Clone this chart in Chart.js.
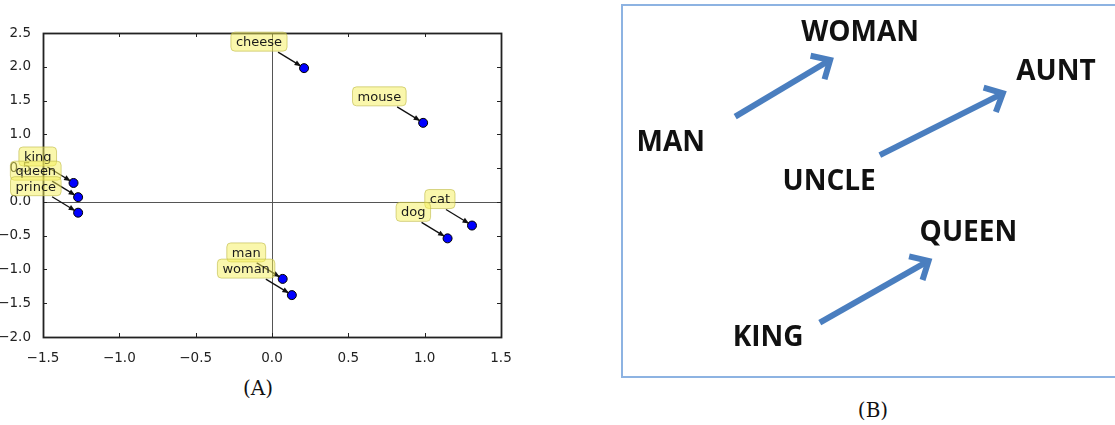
<!DOCTYPE html>
<html>
<head>
<meta charset="utf-8">
<script src="https://cdn.jsdelivr.net/npm/chart.js@4/dist/chart.umd.min.js"></script>
<style>
  body { margin: 0; width: 1115px; height: 425px; overflow: hidden; background: #fff; position: relative; }
  #wrapA { position: absolute; left: 0; top: 0; width: 560px; height: 370px; }
  #boxB { position: absolute; left: 621px; top: 4px; width: 520px; height: 370px; border: 2px solid #8db3e2; background: #fff; }
  #wrapB { position: absolute; left: 0; top: 0; width: 492px; height: 370px; }
  .cap { position: absolute; font-family: "DejaVu Serif", "Liberation Serif", serif; font-size: 20px; color: #111; transform: translateX(-50%); }
</style>
</head>
<body>
<div id="wrapA"><canvas id="chartA"></canvas></div>
<div id="boxB"><div id="wrapB"><canvas id="chartB"></canvas></div></div>
<div class="cap" style="left:258px; top:376px;">(A)</div>
<div class="cap" style="left:873px; top:398px;">(B)</div>
<script>
// panel A: word vectors projected to 2D
var wordsA = ['cheese', 'mouse', 'king', 'queen', 'prince', 'cat', 'dog', 'man', 'woman'];
var xA = [0.21, 0.99, -1.30, -1.27, -1.27, 1.31, 1.15, 0.07, 0.13];
var yA = [1.98, 1.17, 0.28, 0.07, -0.16, -0.35, -0.54, -1.14, -1.38];
var xMinA = -1.5, xMaxA = 1.5, yMinA = -2.0, yMaxA = 2.5, stepA = 0.5;

// panel B: analogy diagram (unit box 0..100)
var wordsB = ['WOMAN', 'AUNT', 'MAN', 'UNCLE', 'QUEEN', 'KING'];
var xB = [48.2, 88.0, 9.7, 41.9, 70.2, 29.5];
var yB = [92.7, 82.2, 63.0, 52.5, 38.6, 10.3];
var arrowFromX = [22.8, 52.2, 40.0];
var arrowFromY = [70.1, 59.7, 14.4];
var arrowToX = [42.1, 77.2, 62.1];
var arrowToY = [85.4, 76.4, 31.1];

function fmt(v){
	var s = (Math.round(v*10)/10).toFixed(1);
	return s.replace('-', '\u2212');
}

var pointsA = [];
for (let i=0;i<wordsA.length;i++){
	pointsA.push({x: xA[i], y: yA[i]});
}

function roundRect(ctx, x, y, w, h, r){
	ctx.beginPath();
	ctx.moveTo(x+r, y);
	ctx.lineTo(x+w-r, y);
	ctx.quadraticCurveTo(x+w, y, x+w, y+r);
	ctx.lineTo(x+w, y+h-r);
	ctx.quadraticCurveTo(x+w, y+h, x+w-r, y+h);
	ctx.lineTo(x+r, y+h);
	ctx.quadraticCurveTo(x, y+h, x, y+h-r);
	ctx.lineTo(x, y+r);
	ctx.quadraticCurveTo(x, y, x+r, y);
	ctx.closePath();
}

// frame, inward ticks and zero lines
var frameA = {
	id: 'frameA',
	beforeDatasetsDraw: function(chart){
		var ctx = chart.ctx, a = chart.chartArea;
		var sx = chart.scales.x, sy = chart.scales.y;
		ctx.save();
		ctx.strokeStyle = '#555';
		ctx.lineWidth = 1;
		var x0 = Math.round(sx.getPixelForValue(0)) + 0.5;
		var y0 = Math.round(sy.getPixelForValue(0)) + 0.5;
		ctx.beginPath();
		ctx.moveTo(x0, a.top); ctx.lineTo(x0, a.bottom);
		ctx.moveTo(a.left, y0); ctx.lineTo(a.right, y0);
		ctx.stroke();
		ctx.strokeStyle = '#222';
		ctx.beginPath();
		sx.ticks.forEach(function(t){
			var px = Math.round(sx.getPixelForValue(t.value)) + 0.5;
			ctx.moveTo(px, a.bottom); ctx.lineTo(px, a.bottom-4);
			ctx.moveTo(px, a.top); ctx.lineTo(px, a.top+4);
		});
		sy.ticks.forEach(function(t){
			var py = Math.round(sy.getPixelForValue(t.value)) + 0.5;
			ctx.moveTo(a.left, py); ctx.lineTo(a.left+4, py);
			ctx.moveTo(a.right, py); ctx.lineTo(a.right-4, py);
		});
		ctx.stroke();
		ctx.lineWidth = 1.8;
		ctx.strokeRect(Math.round(a.left)+0.5, Math.round(a.top)+0.5, Math.round(a.right-a.left), Math.round(a.bottom-a.top));
		ctx.restore();
	}
};

// yellow annotation boxes with arrows
var labelsA = {
	id: 'labelsA',
	afterDatasetsDraw: function(chart){
		var ctx = chart.ctx;
		var meta = chart.getDatasetMeta(0);
		ctx.save();
		ctx.font = '13px "DejaVu Sans"';
		ctx.textAlign = 'right';
		ctx.textBaseline = 'bottom';
		meta.data.forEach(function(el, i){
			var px = el.x, py = el.y;
			// arrow
			var sx = px-26, sy = py-16, ex = px-3, ey = py-2;
			ctx.strokeStyle = '#111';
			ctx.fillStyle = '#111';
			ctx.lineWidth = 1.3;
			ctx.beginPath(); ctx.moveTo(sx, sy); ctx.lineTo(ex, ey); ctx.stroke();
			var ang = Math.atan2(ey-sy, ex-sx);
			ctx.beginPath();
			ctx.moveTo(ex, ey);
			ctx.lineTo(ex-7*Math.cos(ang-0.4), ey-7*Math.sin(ang-0.4));
			ctx.lineTo(ex-7*Math.cos(ang+0.4), ey-7*Math.sin(ang+0.4));
			ctx.closePath(); ctx.fill();
			// box
			var w = ctx.measureText(wordsA[i]).width;
			var right = px-17, bottom = py-17;
			roundRect(ctx, right-w-10, bottom-19, w+10, 19, 4);
			ctx.fillStyle = 'rgba(245,240,90,0.5)';
			ctx.fill();
			ctx.strokeStyle = 'rgba(190,185,70,0.6)';
			ctx.lineWidth = 1;
			ctx.stroke();
			ctx.fillStyle = '#1a1a1a';
			ctx.fillText(wordsA[i], right-5, bottom-2);
		});
		ctx.restore();
	}
};

new Chart(document.getElementById('chartA'), {
	type: 'scatter',
	data: {
		datasets: [{
			data: pointsA,
			backgroundColor: '#0000ff',
			borderColor: '#000',
			borderWidth: 1,
			pointRadius: 4.5
		}]
	},
	options: {
		responsive: true,
		maintainAspectRatio: false,
		animation: false,
		layout: { padding: { left: 0, top: 33, right: 59, bottom: 0 } },
		plugins: { legend: { display: false }, tooltip: { enabled: false } },
		scales: {
			x: {
				min: xMinA, max: xMaxA,
				grid: { display: false },
				border: { display: false },
				ticks: { stepSize: stepA, padding: 5, color: '#222', font: { family: 'DejaVu Sans', size: 13.5 }, callback: function(v){ return fmt(v); } },
				afterFit: function(s){ s.height = 33; }
			},
			y: {
				min: yMinA, max: yMaxA,
				grid: { display: false },
				border: { display: false },
				ticks: { stepSize: stepA, padding: 4, color: '#222', font: { family: 'DejaVu Sans', size: 13.5 }, callback: function(v){ return fmt(v); } },
				afterFit: function(s){ s.width = 43; }
			}
		}
	},
	plugins: [frameA, labelsA]
});

// panel B
var wordPts = [];
for (let i=0;i<wordsB.length;i++){
	wordPts.push({x: xB[i], y: yB[i]});
}
var arrowSets = [];
for (let i=0;i<arrowFromX.length;i++){
	arrowSets.push({
		data: [{x: arrowFromX[i], y: arrowFromY[i]}, {x: arrowToX[i], y: arrowToY[i]}],
		showLine: true,
		borderColor: '#4a7ebf',
		borderWidth: 6,
		pointRadius: 0,
		isArrow: true
	});
}

var drawB = {
	id: 'drawB',
	afterDatasetsDraw: function(chart){
		var ctx = chart.ctx;
		ctx.save();
		chart.data.datasets.forEach(function(ds, di){
			var meta = chart.getDatasetMeta(di);
			if (ds.isArrow){
				var p0 = meta.data[0], p1 = meta.data[1];
				var ang = Math.atan2(p1.y-p0.y, p1.x-p0.x);
				var L = 20;
				ctx.strokeStyle = '#4a7ebf';
				ctx.lineWidth = 6;
				ctx.lineJoin = 'miter';
				ctx.lineCap = 'butt';
				ctx.beginPath();
				ctx.moveTo(p1.x-L*Math.cos(ang-0.75), p1.y-L*Math.sin(ang-0.75));
				ctx.lineTo(p1.x, p1.y);
				ctx.lineTo(p1.x-L*Math.cos(ang+0.75), p1.y-L*Math.sin(ang+0.75));
				ctx.stroke();
			} else {
				ctx.fillStyle = '#111';
				ctx.font = 'bold 28px "Open Sans"';
				ctx.textAlign = 'center';
				ctx.textBaseline = 'middle';
				meta.data.forEach(function(el, i){
					ctx.fillText(wordsB[i], el.x, el.y);
				});
			}
		});
		ctx.restore();
	}
};

new Chart(document.getElementById('chartB'), {
	type: 'scatter',
	data: {
		datasets: [{ data: wordPts, pointRadius: 0 }].concat(arrowSets)
	},
	options: {
		responsive: true,
		maintainAspectRatio: false,
		animation: false,
		layout: { padding: 0 },
		plugins: { legend: { display: false }, tooltip: { enabled: false } },
		scales: {
			x: { display: false, min: 0, max: 100 },
			y: { display: false, min: 0, max: 100 }
		}
	},
	plugins: [drawB]
});
</script>
</body>
</html>
